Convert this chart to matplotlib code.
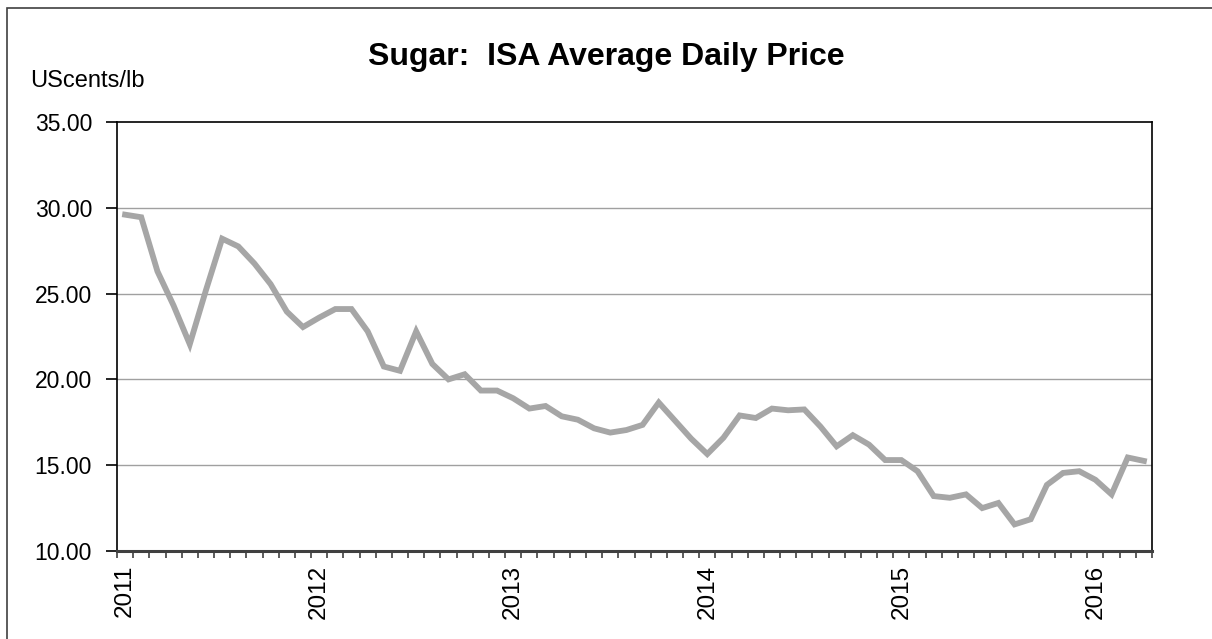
import matplotlib.pyplot as plt
from matplotlib.patches import Rectangle

plt.rcParams["font.family"] = ["Liberation Sans", "DejaVu Sans"]

TITLE = "Sugar:  ISA Average Daily Price"
UNIT = "UScents/lb"
YEARS = ["2011", "2012", "2013", "2014", "2015", "2016"]

# monthly ISA average daily price, Jan 2011 .. Apr 2016
PRICES = [
    29.60, 29.45, 26.30, 24.30, 22.05, 25.20, 28.20, 27.75, 26.75, 25.55,
    23.95, 23.05, 23.60, 24.10, 24.10, 22.80, 20.75, 20.50, 22.80, 20.90,
    20.00, 20.30, 19.35, 19.35, 18.90, 18.30, 18.45, 17.85, 17.65, 17.15,
    16.90, 17.05, 17.35, 18.65, 17.60, 16.55, 15.65, 16.60, 17.90, 17.75,
    18.30, 18.20, 18.25, 17.25, 16.10, 16.75, 16.20, 15.30, 15.30, 14.65,
    13.20, 13.10, 13.30, 12.50, 12.80, 11.55, 11.85, 13.85, 14.55, 14.65,
    14.15, 13.30, 15.45, 15.25,
]
Y_TICKS = [10, 15, 20, 25, 30, 35]


def main():
    fig = plt.figure(figsize=(12.12, 6.39), dpi=100)
    ax = fig.add_axes([117 / 1212, 1 - 551 / 639, (1152 - 117) / 1212, (551 - 122) / 639])

    n = len(PRICES)
    x = list(range(n))

    for y in Y_TICKS[1:-1]:
        ax.axhline(y, color="#a0a0a0", lw=1.0, zorder=1)

    ax.plot(x, PRICES, color="#a6a6a6", lw=4.2, solid_joinstyle="miter", zorder=3)

    ax.set_xlim(-0.5, n - 0.5)
    ax.set_ylim(10, 35)
    ax.set_yticks(Y_TICKS)
    ax.set_yticklabels([f"{v:.2f}" for v in Y_TICKS], fontsize=16.5)

    # tick marks on category boundaries, year labels on January centres
    ax.set_xticks([i - 0.5 for i in range(n + 1)])
    ax.set_xticklabels([])
    ax.set_xticks([12 * k for k in range(len(YEARS))], minor=True)
    ax.set_xticklabels(YEARS, minor=True, rotation=90, fontsize=17.5)
    ax.tick_params(axis="x", which="major", direction="out", length=5, width=1.2, color="#404040")
    ax.tick_params(axis="x", which="minor", length=0, pad=10)
    ax.tick_params(axis="y", direction="out", length=8, width=1.2, pad=10)

    for side in ("left", "top", "right"):
        ax.spines[side].set_linewidth(1.2)
        ax.spines[side].set_color("black")
    ax.spines["bottom"].set_linewidth(2.2)
    ax.spines["bottom"].set_color("#404040")

    fig.text(0.5, 1 - 57 / 639, TITLE, ha="center", va="center", fontsize=23, fontweight="bold")
    fig.text(30 / 1212, 1 - 81 / 639, UNIT, ha="left", va="center", fontsize=17)

    fig.patches.append(Rectangle((7 / 1212, -0.1), 1.2, 1.1 - 8 / 639, transform=fig.transFigure,
                                 fill=False, edgecolor="#404040", lw=1.2))

    fig.savefig("out.png", dpi=100)


if __name__ == "__main__":
    main()
